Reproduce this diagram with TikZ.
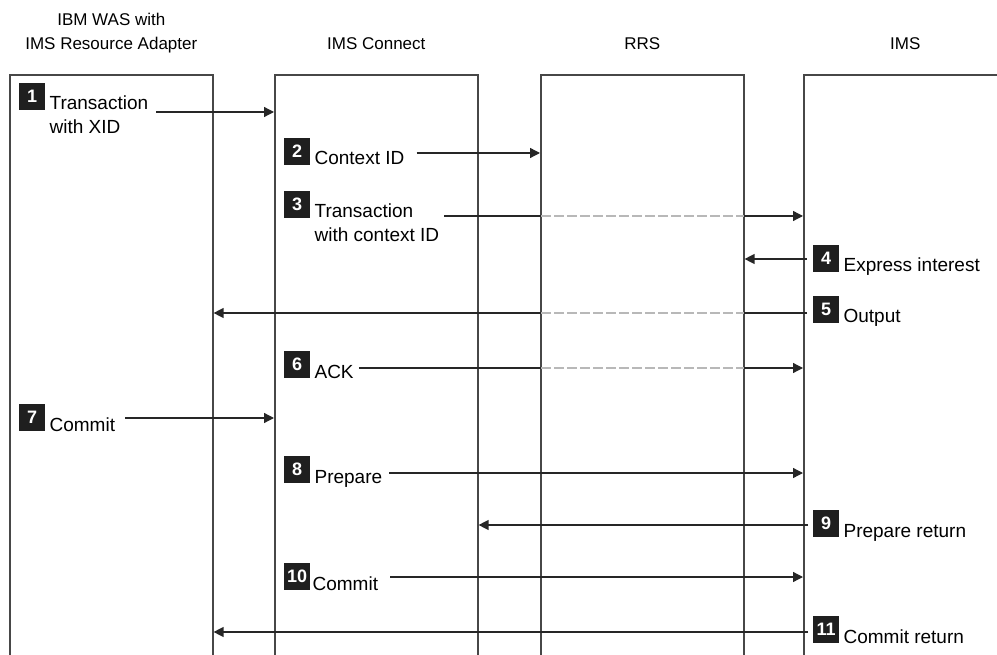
\documentclass[tikz,border=0pt]{standalone}
\usepackage{fontspec}
\setmainfont{Liberation Sans}
\usetikzlibrary{
    arrows.meta,
    positioning
}

\begin{document}
\begin{tikzpicture}[
        x=1pt, y=-1pt,
        every node/.style={font=\fontsize{19pt}{24pt}\selectfont},
        lane/.style={
            rectangle,
            draw=black!72,
            line width=1.6pt,
            minimum width=203pt,
            minimum height=640pt,
            anchor=north west,
            inner sep=0pt
        },
        header/.style={
            font=\fontsize{17pt}{24pt}\selectfont,
            align=center,
            anchor=base,
            inner sep=0pt
        },
        num/.style={
            rectangle,
            fill=black!88,
            text=white,
            font=\bfseries\fontsize{18pt}{18pt}\selectfont,
            minimum width=26pt,
            minimum height=27pt,
            inner sep=0pt,
            anchor=south west
        },
        msgtext/.style={
            anchor=base west,
            align=left,
            inner sep=0pt
        },
        msg/.style={
            -{Triangle[length=10pt,width=10pt]},
            line width=1.3pt,
            draw=black!85
        },
        quiet/.style={
            draw=white,
            line width=2.4pt,
            shorten <=1pt,
            shorten >=1pt,
            postaction={draw=black!28, line width=1.3pt,
                        dash pattern=on 10pt off 3pt}
        }
    ]

    \useasboundingbox (0,0) rectangle (997,655);
    \clip (0,0) rectangle (997,655);

    % lanes
    \node[lane] (was)  at (9,74)   {};
    \node[lane] (conn) at (274,74) {};
    \node[lane] (rrs)  at (540,74) {};
    \node[lane] (ims)  at (803,74) {};

    \node[header] (washead)  at ([yshift=24pt]was.north)
        {IBM WAS with\\IMS Resource Adapter};
    \node[header] (connhead) at ([yshift=24pt]conn.north) {IMS Connect};
    \node[header] (rrshead)  at ([yshift=24pt]rrs.north)  {RRS};
    \node[header] (imshead)  at ([yshift=24pt]ims.north)  {IMS};

    % steps
    \node[num] (n1) at (19,110) {1};
    \node[right=4pt of n1.south east, msgtext, yshift=-24pt] (t1)
        {Transaction\\with XID};

    \node[num] (n2) at (284,165) {2};
    \node[right=4pt of n2.south east, msgtext] (t2) {Context ID};

    \node[num] (n3) at (284,218) {3};
    \node[right=4pt of n3.south east, msgtext, yshift=-24pt] (t3)
        {Transaction\\with context ID};

    \node[num] (n4) at (813,272) {4};
    \node[right=4pt of n4.south east, msgtext] (t4) {Express interest};

    \node[num] (n5) at (813,323) {5};
    \node[right=4pt of n5.south east, msgtext] (t5) {Output};

    \node[num] (n6) at (284,378) {6};
    \node[right=4pt of n6.south east, msgtext] (t6) {ACK};

    \node[num] (n7) at (19,431) {7};
    \node[right=4pt of n7.south east, msgtext] (t7) {Commit};

    \node[num] (n8) at (284,483) {8};
    \node[right=4pt of n8.south east, msgtext] (t8) {Prepare};

    \node[num] (n9) at (813,537) {9};
    \node[right=4pt of n9.south east, msgtext] (t9) {Prepare return};

    \node[num] (n10) at (284,590) {10};
    \node[right=2pt of n10.south east, msgtext] (t10) {Commit};

    \node[num] (n11) at (813,643) {11};
    \node[right=4pt of n11.south east, msgtext] (t11) {Commit return};

    % messages
    \draw[msg] ([xshift=8pt]t1.east |- 0,112) -- (conn.west |- 0,112);
    \draw[msg] ([xshift=12pt]t2.east |- 0,153) -- (rrs.west |- 0,153);
    \draw[msg] ([xshift=5pt]t3.east |- 0,216) -- (ims.west |- 0,216);
    \draw[msg] ([xshift=-6pt]n4.west |- 0,259) -- (rrs.east |- 0,259);
    \draw[msg] ([xshift=-6pt]n5.west |- 0,313) -- (was.east |- 0,313);
    \draw[msg] ([xshift=5pt]t6.east |- 0,368) -- (ims.west |- 0,368);
    \draw[msg] ([xshift=10pt]t7.east |- 0,418) -- (conn.west |- 0,418);
    \draw[msg] ([xshift=7pt]t8.east |- 0,473) -- (ims.west |- 0,473);
    \draw[msg] ([xshift=-5pt]n9.west |- 0,525) -- (conn.east |- 0,525);
    \draw[msg] ([xshift=12pt]t10.east |- 0,577) -- (ims.west |- 0,577);
    \draw[msg] ([xshift=-5pt]n11.west |- 0,632) -- (was.east |- 0,632);

    % passing through RRS
    \draw[quiet] (rrs.west |- 0,216) -- (rrs.east |- 0,216);
    \draw[quiet] (rrs.west |- 0,313) -- (rrs.east |- 0,313);
    \draw[quiet] (rrs.west |- 0,368) -- (rrs.east |- 0,368);

\end{tikzpicture}
\end{document}
